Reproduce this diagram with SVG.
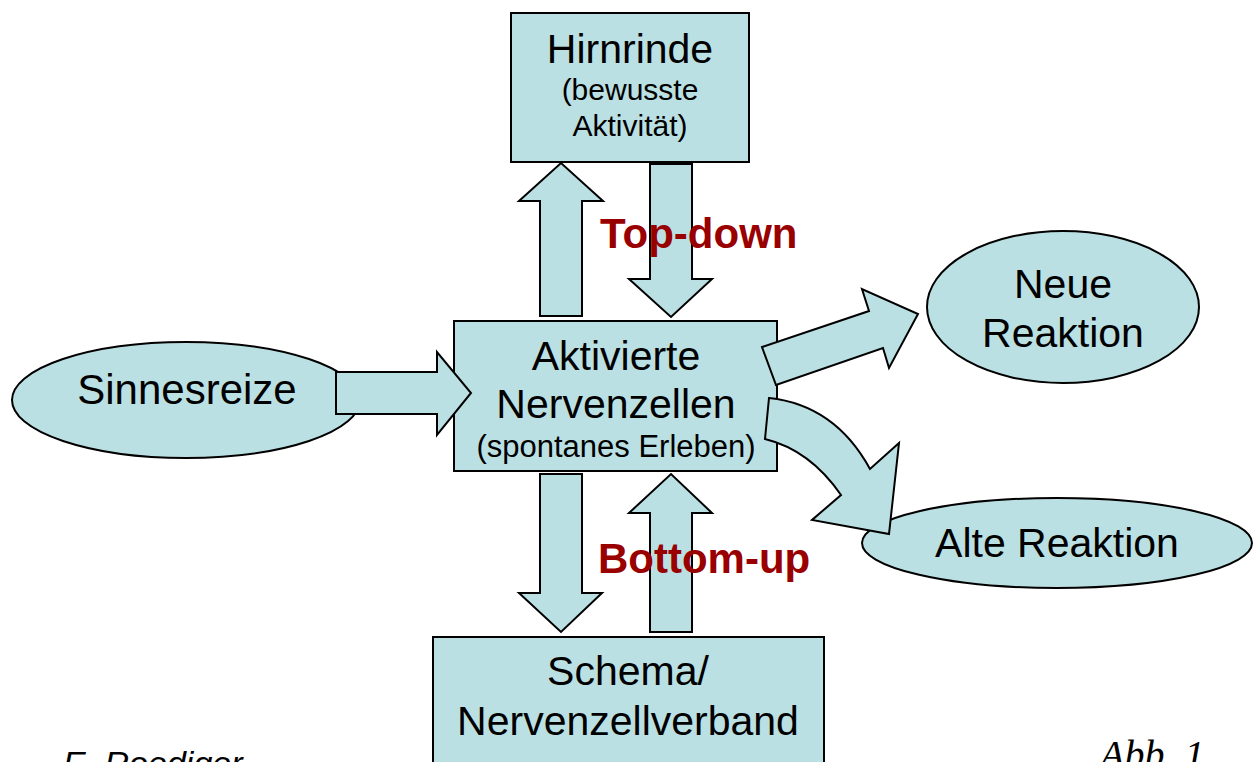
<svg xmlns="http://www.w3.org/2000/svg" width="1253" height="762" viewBox="0 0 1253 762">
<style>
.shape{fill:#BBE0E3;stroke:#000;stroke-width:2;stroke-linejoin:miter}
.arr{fill:#BBE0E3;stroke:#000;stroke-width:2;stroke-linejoin:miter}
.t{font-family:"Liberation Sans",Arial,sans-serif;font-size:41px;fill:#000;text-anchor:middle}
.s{font-family:"Liberation Sans",Arial,sans-serif;font-size:30px;fill:#000;text-anchor:middle}
.lbl{font-family:"Liberation Sans",Arial,sans-serif;font-size:42px;font-weight:bold;fill:#990000}
</style>
<rect width="1253" height="762" fill="#fff"/>
<g id="hirnrinde">
<rect class="shape" x="511" y="13" width="238" height="149"/>
<text class="t" x="630" y="63">Hirnrinde</text>
<text class="s" x="630" y="100">(bewusste</text>
<text class="s" x="630" y="136">Aktivität)</text>
</g>
<g id="sinnesreize">
<ellipse class="shape" cx="186" cy="400" rx="174" ry="58"/>
<text class="t" x="187" y="404" style="font-size:42px">Sinnesreize</text>
</g>
<g id="aktivierte">
<rect class="shape" x="454" y="321" width="323" height="150"/>
<text class="t" x="616" y="370">Aktivierte</text>
<text class="t" x="616" y="418">Nervenzellen</text>
<text class="s" x="616" y="457" style="font-size:31px">(spontanes Erleben)</text>
</g>
<g id="neue">
<ellipse class="shape" cx="1063" cy="307" rx="136" ry="76"/>
<text class="t" x="1063" y="298">Neue</text>
<text class="t" x="1063" y="347">Reaktion</text>
</g>
<g id="alte">
<ellipse class="shape" cx="1057" cy="543" rx="195" ry="45"/>
<text class="t" x="1057" y="557">Alte Reaktion</text>
</g>
<g id="schema">
<rect class="shape" x="433" y="637" width="391" height="140"/>
<text class="t" x="628" y="685">Schema/</text>
<text class="t" x="628" y="735">Nervenzellverband</text>
</g>
<g id="connectors">
<polygon class="arr" points="540,316 540,201 519,201 561,163 603,201 582,201 582,316"/>
<polygon class="arr" points="650,164 692,164 692,279 712,279 671,317 629,279 650,279"/>
<polygon class="arr" points="336,372 437,372 437,352 471,393 437,435 437,414 336,414"/>
<polygon class="arr" points="762,347 869,311 862,289 918,314 889,368 883,348 776,385"/>
<path class="arr" d="M769,398 Q835,405 870,469 L899,443 L889,534 L812,520 L841,495 Q810,450 765,439 Z"/>
<polygon class="arr" points="540,474 582,474 582,593 602,593 561,632 519,593 540,593"/>
<polygon class="arr" points="650,632 650,513 629,513 671,474 712,513 692,513 692,632"/>
</g>
<g id="labels">
<text class="lbl" x="600" y="248">Top-down</text>
<text class="lbl" x="598" y="573">Bottom-up</text>
</g>
<g id="footer">
<text x="63" y="775" style="font-family:'Liberation Sans',Arial,sans-serif;font-style:italic;font-size:34px;fill:#000">E. Roediger</text>
<text x="1100" y="768" style="font-family:'Liberation Serif','Times New Roman',serif;font-style:italic;font-size:40px;fill:#000">Abb. 1</text>
</g>
</svg>
